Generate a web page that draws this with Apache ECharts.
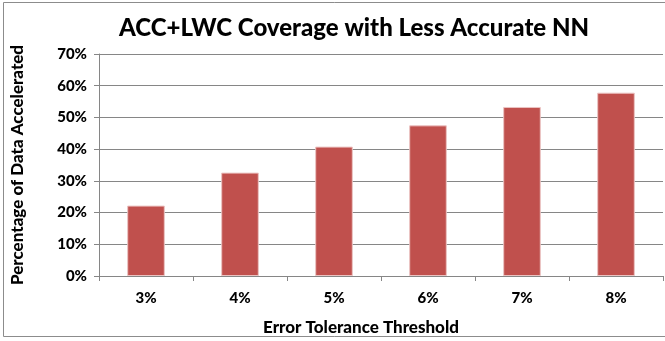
<!DOCTYPE html>
<html>
<head>
<meta charset="utf-8">
<script src="https://cdn.jsdelivr.net/npm/echarts@6/dist/echarts.min.js"></script>
<style>
  html, body { margin: 0; padding: 0; background: #fff; }
  #chart { width: 665px; height: 341px; }
</style>
</head>
<body>
<div id="chart"></div>
<script>
// Error tolerance thresholds and the share of data accelerated at each
const categories = ['3%', '4%', '5%', '6%', '7%', '8%'];
const coverage = [22.2, 32.6, 40.8, 47.5, 53.3, 57.8];
const yTicks = [0, 10, 20, 30, 40, 50, 60, 70];

const FONT = 'Lato, "Open Sans", sans-serif';

const chart = echarts.init(document.getElementById('chart'), null, { renderer: 'canvas' });

chart.setOption({
  animation: false,
  backgroundColor: '#ffffff',
  title: {
    text: 'ACC+LWC Coverage with Less Accurate NN',
    left: 349,
    textAlign: 'center',
    top: 11,
    textStyle: { fontFamily: FONT, fontWeight: 900, fontSize: 24, color: '#000' }
  },
  graphic: [{
    type: 'rect',
    shape: { x: 3.5, y: 2.5, width: 700, height: 334 },
    style: { fill: 'none', stroke: '#8c8c8c', lineWidth: 1 },
    silent: true,
    z: -1
  }],
  grid: { left: 99, right: 2, top: 54, bottom: 65 },
  xAxis: {
    type: 'category',
    data: categories,
    name: 'Error Tolerance Threshold',
    nameLocation: 'middle',
    nameGap: 43,
    nameTextStyle: {
      fontFamily: FONT, fontWeight: 900, fontSize: 17, color: '#000',
      padding: [0, 40, 0, 0]
    },
    axisLine: { lineStyle: { color: '#868686', width: 1 } },
    axisTick: { show: true, length: 5, lineStyle: { color: '#868686' } },
    axisLabel: { fontFamily: FONT, fontWeight: 900, fontSize: 15, color: '#000', margin: 15 }
  },
  yAxis: {
    type: 'value',
    min: yTicks[0],
    max: yTicks[yTicks.length - 1],
    interval: 10,
    name: 'Percentage of Data Accelerated',
    nameLocation: 'middle',
    nameGap: 73,
    nameTextStyle: { fontFamily: FONT, fontWeight: 900, fontSize: 17, color: '#000' },
    axisLine: { show: true, lineStyle: { color: '#868686', width: 1 } },
    axisTick: { show: true, length: 5, lineStyle: { color: '#868686' } },
    axisLabel: {
      fontFamily: FONT, fontWeight: 900, fontSize: 15, color: '#000', margin: 12,
      formatter: v => v + '%'
    },
    splitLine: { lineStyle: { color: '#868686', width: 1 } }
  },
  series: [{
    type: 'bar',
    data: coverage,
    barWidth: '40%',
    itemStyle: { color: '#C0504D', borderColor: '#EBC3C2', borderWidth: 1 }
  }]
});
</script>
</body>
</html>
